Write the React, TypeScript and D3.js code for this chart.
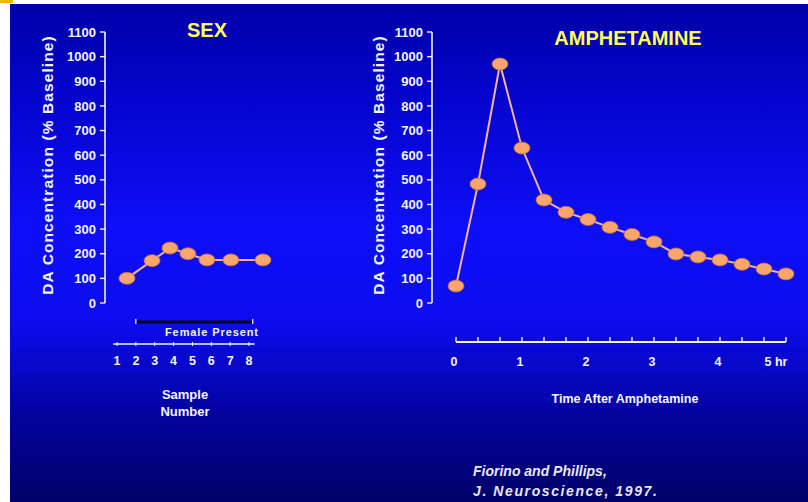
import React from "react";
import * as d3 from "d3";

// ---- Data ----
const yTicks = [0, 100, 200, 300, 400, 500, 600, 700, 800, 900, 1000, 1100];

// SEX panel: x positions (in sample units, as drawn) and values (% baseline)
const sexSampleX = [1.53, 2.86, 3.81, 4.76, 5.77, 7.04, 8.74];
const sexValues = [100, 172, 223, 200, 175, 175, 175];
const sampleTicks = [1, 2, 3, 4, 5, 6, 7, 8];
const femalePresent = [2.0, 8.2];

// AMPHETAMINE panel: time (hr) and values (% baseline)
const ampTimes = [0, 1 / 3, 2 / 3, 1, 4 / 3, 5 / 3, 2, 7 / 3, 8 / 3, 3, 10 / 3, 11 / 3, 4, 13 / 3, 14 / 3, 5];
const ampValues = [69, 483, 970, 629, 418, 368, 339, 307, 278, 248, 199, 187, 175, 157, 138, 118];
const hourTicks = [0, 1, 2, 3, 4, 5];
const hourTickLabels = ["0", "1", "2", "3", "4", "5 hr"];
const minorTicks = d3.range(0, 16).map((i) => i / 3);

const FONT = "'Liberation Sans', Arial, sans-serif";
const WHITE = "#f4f4ff";
const YELLOW = "#ffff5a";
const LINE = "#f2b49a";
const DOT = "#f9a66c";
const DOT_STROKE = "#c8683c";

function YAxis({ x, y }: { x: number; y: d3.ScaleLinear<number, number> }) {
  return (
    <g>
      <line x1={x} x2={x} y1={y(1100)} y2={y(0)} stroke={WHITE} strokeWidth={1.6} />
      {yTicks.map((t) => (
        <g key={t}>
          <line x1={x - 5} x2={x} y1={y(t)} y2={y(t)} stroke={WHITE} strokeWidth={1.4} />
          <text
            x={x - 9}
            y={y(t)}
            dy="0.36em"
            textAnchor="end"
            fontFamily={FONT}
            fontWeight="bold"
            fontSize={13}
            fill={WHITE}
          >
            {t}
          </text>
        </g>
      ))}
    </g>
  );
}

function YLabel({ cx, cy }: { cx: number; cy: number }) {
  return (
    <text
      transform={`translate(${cx},${cy}) rotate(-90)`}
      textAnchor="middle"
      dy="0.36em"
      fontFamily={FONT}
      fontWeight="bold"
      fontSize={15.5}
      letterSpacing={1.1}
      fill={WHITE}
    >
      DA Concentration (% Baseline)
    </text>
  );
}

export default function App() {
  const W = 808;
  const H = 502;
  const y = d3.scaleLinear().domain([0, 1100]).range([303, 32]);
  const xs = d3.scaleLinear().domain([1, 8]).range([117, 249]);
  const xa = d3.scaleLinear().domain([0, 5]).range([456, 786]);

  const sexLine = d3
    .line<number>()
    .x((_, i) => xs(sexSampleX[i]))
    .y((v) => y(v));
  const ampLine = d3
    .line<number>()
    .x((_, i) => xa(ampTimes[i]))
    .y((v) => y(v));

  return (
    <svg
      width={W}
      height={H}
      style={{ position: "absolute", left: 0, top: 0, display: "block" }}
    >
      <defs>
        <linearGradient id="bg" x1="0" y1="0" x2="0" y2="1">
          <stop offset="0" stopColor="#0000a8" />
          <stop offset="0.18" stopColor="#0404cc" />
          <stop offset="0.45" stopColor="#0e0ef8" />
          <stop offset="0.64" stopColor="#0c0cee" />
          <stop offset="0.82" stopColor="#0303a0" />
          <stop offset="1" stopColor="#010168" />
        </linearGradient>
      </defs>
      <rect x={0} y={0} width={W} height={H} fill="#ffffff" />
      <rect x={10} y={4} width={W - 10} height={H - 4} fill="url(#bg)" />
      <rect x={0} y={0} width={13} height={3} fill="#f6b400" />

      {/* Titles */}
      <text x={207} y={37} textAnchor="middle" fontFamily={FONT} fontWeight="bold" fontSize={20} fill={YELLOW}>
        SEX
      </text>
      <text x={628} y={45} textAnchor="middle" fontFamily={FONT} fontWeight="bold" fontSize={20} fill={YELLOW}>
        AMPHETAMINE
      </text>

      {/* Left panel */}
      <YLabel cx={47} cy={165} />
      <YAxis x={105} y={y} />
      <path d={sexLine(sexValues) || ""} fill="none" stroke={LINE} strokeWidth={2} />
      {sexValues.map((v, i) => (
        <ellipse key={i} cx={xs(sexSampleX[i])} cy={y(v)} rx={8} ry={6} fill={DOT} stroke={DOT_STROKE} strokeWidth={0.8} />
      ))}
      {/* Female present bar */}
      <line x1={xs(femalePresent[0])} x2={xs(femalePresent[1])} y1={322} y2={322} stroke="#000028" strokeWidth={3} />
      <line x1={xs(femalePresent[0])} x2={xs(femalePresent[0])} y1={319} y2={324} stroke={WHITE} strokeWidth={1.2} />
      <line x1={xs(femalePresent[1])} x2={xs(femalePresent[1])} y1={319} y2={324} stroke={WHITE} strokeWidth={1.2} />
      <text x={165} y={336} fontFamily={FONT} fontWeight="bold" fontSize={11} letterSpacing={0.9} fill={WHITE}>
        Female  Present
      </text>
      {/* sample axis */}
      <line x1={xs(0.8)} x2={xs(8.3)} y1={344} y2={344} stroke={WHITE} strokeWidth={1.6} />
      {sampleTicks.map((t) => (
        <g key={t}>
          <line x1={xs(t)} x2={xs(t)} y1={342} y2={346} stroke={WHITE} strokeWidth={1} />
          <text x={xs(t)} y={365} textAnchor="middle" fontFamily={FONT} fontWeight="bold" fontSize={12.5} fill={WHITE}>
            {t}
          </text>
        </g>
      ))}
      <text x={185} y={399} textAnchor="middle" fontFamily={FONT} fontWeight="bold" fontSize={13} fill={WHITE}>
        Sample
      </text>
      <text x={185} y={416} textAnchor="middle" fontFamily={FONT} fontWeight="bold" fontSize={13} fill={WHITE}>
        Number
      </text>

      {/* Right panel */}
      <YLabel cx={378} cy={165} />
      <YAxis x={432} y={y} />
      <path d={ampLine(ampValues) || ""} fill="none" stroke={LINE} strokeWidth={2} />
      {ampValues.map((v, i) => (
        <ellipse key={i} cx={xa(ampTimes[i])} cy={y(v)} rx={8} ry={6} fill={DOT} stroke={DOT_STROKE} strokeWidth={0.8} />
      ))}
      <line x1={xa(0)} x2={xa(5)} y1={342} y2={342} stroke={WHITE} strokeWidth={2} />
      {minorTicks.map((t, i) => (
        <line key={i} x1={xa(t)} x2={xa(t)} y1={337} y2={342} stroke={WHITE} strokeWidth={1.4} />
      ))}
      {hourTicks.map((t, i) => (
        <text
          key={t}
          x={i === 5 ? xa(t) - 10 : xa(t) - 2}
          y={366}
          textAnchor="middle"
          fontFamily={FONT}
          fontWeight="bold"
          fontSize={12.5}
          fill={WHITE}
        >
          {hourTickLabels[i]}
        </text>
      ))}
      <text x={625} y={403} textAnchor="middle" fontFamily={FONT} fontWeight="bold" fontSize={12.5} fill={WHITE}>
        Time After Amphetamine
      </text>

      {/* Citation */}
      <text x={473} y={476} fontFamily={FONT} fontWeight="bold" fontStyle="italic" fontSize={14} letterSpacing={0} fill="#e8e8f0">
        Fiorino and Phillips,
      </text>
      <text x={473} y={496} fontFamily={FONT} fontWeight="bold" fontStyle="italic" fontSize={14} letterSpacing={1.6} fill="#e8e8f0">
        J. Neuroscience, 1997.
      </text>
    </svg>
  );
}
